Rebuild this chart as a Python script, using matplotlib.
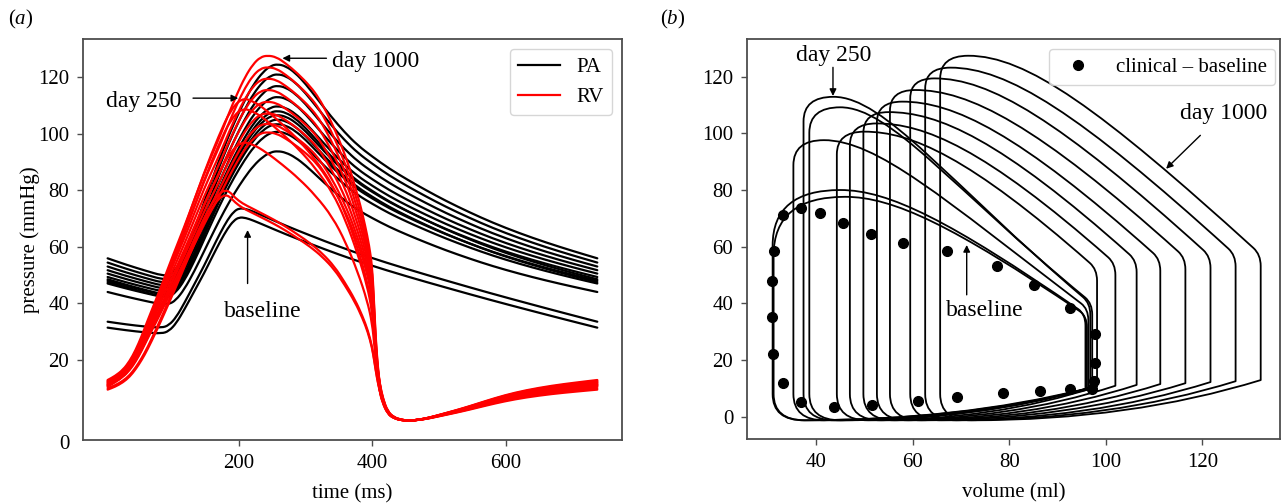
import numpy as np
import matplotlib
matplotlib.use("Agg")
import matplotlib.pyplot as plt
from matplotlib.path import Path
from matplotlib.patches import PathPatch
from matplotlib.lines import Line2D

plt.rcParams['font.family'] = ['Liberation Serif', 'DejaVu Serif']
plt.rcParams['mathtext.fontset'] = 'custom'
plt.rcParams['mathtext.rm'] = 'Liberation Serif'
plt.rcParams['mathtext.it'] = 'Liberation Serif:italic'

# ---------------- (a) pressure waveforms over one beat ----------------
# RV systole up to the pressure trough, day-1000 beat
rv_late_t = [3, 14, 26, 36, 45, 54, 63, 75, 87, 102, 118, 133, 148, 160, 173, 185, 197, 209, 221, 232,
             243, 256, 270, 288, 307, 320, 331, 344, 356, 366, 374, 382, 389, 395, 399.5, 402, 404.5, 407,
             410.5, 415, 422.7, 432, 444, 455]
rv_late_p = [12.9, 14.3, 16.5, 19.6, 23.5, 28.4, 34.0, 41.0, 48.3, 57.6, 67.1, 76.6, 86.0, 92.8, 100.0,
             107.3, 114.0, 120.0, 124.5, 127.0, 127.6, 127.0, 124.8, 121.2, 116.6, 112.4, 107.6, 101.2,
             94.2, 87.6, 81.2, 74.5, 67.5, 60.5, 53.0, 42.0, 29.5, 20.5, 11.8, 6.5, 1.5, -0.5, -1.3, -1.5]
# RV systole, early remodelling beat
rv_early_t = [3, 26, 45, 63, 87, 118, 148, 170, 187, 204, 220, 240, 265, 290, 315, 340, 360, 378, 392,
              399.5, 403, 407, 411, 416, 422.7, 432, 444, 455]
rv_early_p = [10.5, 13.8, 19.5, 28.0, 40.5, 58.0, 75.0, 86.0, 93.5, 97.1, 96.3, 93.5, 89.0, 84.0, 78.0,
              70.5, 61.5, 51.0, 41.0, 33.0, 24.5, 15.5, 9.8, 5.2, 1.5, -0.4, -1.2, -1.5]
# RV systole, baseline beat
rv_base_t = [3, 14, 26, 36, 45, 54, 63, 75, 87, 102, 118, 133, 148, 160, 170, 179, 186, 194, 205, 220,
             234, 252, 270, 288, 307, 325, 343, 358, 374, 385, 393, 399.5, 403, 407, 411, 416, 422.7,
             432, 444, 455]
rv_base_p = [10.0, 11.0, 12.6, 14.6, 17.3, 20.6, 24.5, 30.5, 36.8, 45.0, 54.0, 62.5, 70.3, 75.5, 78.8,
             80.0, 79.4, 77.3, 75.3, 73.5, 71.8, 69.6, 67.1, 64.3, 61.2, 57.6, 53.0, 47.6, 41.2, 35.5,
             30.5, 24.7, 19.5, 13.5, 9.0, 5.0, 1.5, -0.4, -1.2, -1.5]
# RV filling after the trough
rv_dia_t = [455, 470, 485, 505, 525, 545, 570, 598, 630, 669, 705, 737]
rv_dia_p = [-1.5, -1.1, -0.4, 0.9, 2.2, 3.6, 5.5, 7.5, 9.3, 10.9, 12.0, 12.9]

# PA, day-1000 beat and baseline beat
pa_late_t = [3, 30, 60, 85, 95, 105, 118, 133, 148, 163, 178, 193, 208, 222, 236, 248, 258, 270, 284,
             300, 318, 338, 358, 378, 400, 425, 453, 480, 510, 545, 580, 620, 660, 700, 737]
pa_late_p = [55.9, 53.7, 51.5, 49.8, 50.0, 51.8, 57.2, 66.0, 76.0, 86.0, 95.5, 104.0, 111.5, 117.5,
             121.8, 124.0, 124.5, 123.8, 121.5, 117.5, 112.0, 106.0, 100.5, 95.8, 91.8, 87.6, 83.6,
             80.0, 76.2, 72.2, 68.5, 64.8, 61.5, 58.5, 55.9]
pa_base_t = [3, 30, 60, 84, 95, 106, 118, 133, 148, 160, 172, 183, 192, 200, 210, 222, 240, 270, 307,
             350, 392, 450, 514, 575, 636, 690, 737]
pa_base_p = [31.4, 30.5, 29.7, 29.3, 30.2, 33.0, 37.8, 44.3, 50.8, 56.5, 62.0, 66.5, 69.2, 70.4, 70.2,
             69.2, 67.4, 64.4, 61.0, 57.2, 53.8, 49.6, 45.3, 41.3, 37.5, 34.2, 31.4]

# one entry per simulated stage: baseline x2, early x3 (incl. day 250), later x8 (up to day 1000)
rv_shape = ['base', 'base', 'early', 'early', 'early'] + ['late'] * 8
rv_peak = [80.0, 78.3, 97.1, 112.5, 108.9, 100.5, 103.5, 107.2, 111.3, 115.5, 119.5, 123.5, 127.6]
rv_edp = [10.0, 9.5, 10.5, 10.8, 11.0, 11.2, 11.4, 11.6, 11.9, 12.1, 12.4, 12.6, 12.9]
pa_shape = ['base', 'base'] + ['late'] * 11
pa_peak = [73.6, 70.4, 93.8, 108.0, 105.0, 100.7, 103.4, 106.6, 109.7, 113.0, 116.9, 121.0, 124.5]
pa_dia = [33.5, 31.4, 44.0, 48.5, 47.5, 47.0, 48.0, 49.3, 50.5, 51.7, 53.0, 54.4, 55.9]

# ---------------- (b) pressure-volume loops ----------------
esv = [31.0, 31.2, 35.3, 37.4, 38.6, 44.3, 47.0, 49.8, 52.6, 55.3, 59.5, 62.6, 65.7]
edv = [95.8, 96.1, 96.4, 96.8, 97.2, 98.2, 102.0, 106.4, 111.3, 116.5, 121.7, 126.9, 132.1]
edp = [9.8, 9.5, 10.0, 10.2, 10.4, 10.6, 10.9, 11.2, 11.5, 11.8, 12.2, 12.5, 12.9]
p_open = [36.2, 35.5, 38.0, 40.0, 40.0, 52.0, 54.0, 55.0, 55.5, 56.0, 56.5, 57.0, 57.2]
eject_slope = [1.17, 1.15, 1.30, 1.45, 1.40, 1.50, 1.50, 1.52, 1.52, 1.53, 1.54, 1.545, 1.546]
v_peak = [45.0, 46.0, 41.6, 43.6, 45.0, 50.0, 52.5, 55.0, 57.8, 60.5, 64.5, 67.8, 71.5]
p_peak = [80.0, 77.6, 97.6, 112.9, 109.2, 100.6, 103.5, 107.5, 111.2, 115.3, 119.4, 123.2, 127.4]

clin_v = [33.2, 36.9, 40.8, 45.5, 51.4, 58.1, 67.1, 77.4, 85.1, 92.5, 97.8, 97.8, 97.5, 97.1,
          92.5, 86.4, 78.8, 69.1, 61.1, 51.5, 43.8, 36.9, 33.1, 31.0, 30.8, 30.8, 31.2]
clin_p = [71.2, 73.6, 72.0, 68.5, 64.5, 61.2, 58.3, 53.3, 46.4, 38.5, 29.1, 19.0, 12.5, 9.8,
          9.6, 9.2, 8.3, 7.1, 5.6, 4.1, 3.3, 5.3, 11.8, 22.1, 35.1, 48.0, 58.3]


def smooth_path(x, y):
    # quadratic segments between knot midpoints
    pts = np.column_stack([x, y])
    mids = (pts[:-1] + pts[1:]) / 2
    verts = [pts[0], mids[0]]
    codes = [Path.MOVETO, Path.LINETO]
    for k in range(1, len(pts) - 1):
        verts += [pts[k], mids[k]]
        codes += [Path.CURVE3, Path.CURVE3]
    verts.append(pts[-1])
    codes.append(Path.LINETO)
    return Path(verts, codes)


def rescale_systole(t, p, peak, start):
    t = np.asarray(t, float)
    p = np.asarray(p, float)
    ref = np.interp(t, [t[0], t[-1]], [p[0], p[-1]])
    new = np.interp(t, [t[0], t[-1]], [start, p[-1]])
    i = np.argmax(p)
    g = (peak - new[i]) / (p[i] - ref[i])
    return new + (p - ref) * g


def rescale_filling(p, end):
    p = np.asarray(p, float)
    return p[0] + (p - p[0]) * (end - p[0]) / (p[-1] - p[0])


def rescale_pa(p, peak, dia):
    p = np.asarray(p, float)
    return dia + (p - p[0]) * (peak - dia) / (p.max() - p[0])


def pv_loop_path(esv, edv, edp, p_open, slope, v_pk, p_max, p_min=-1.3):
    span = edv - v_pk
    d = np.array([-1.0, slope])
    corner = np.array([edv, p_open])
    b1 = corner + 1.5 * d
    c1 = corner + 0.55 * span * d
    c2 = (v_pk + 0.2 * span, p_max)
    p_d = p_max - 1.4 * (v_pk - esv)
    x0 = esv + 6.5
    verts = [(edv, edp), (edv, p_open - 4.0),
             (edv, p_open), tuple(b1),
             tuple(c1), c2, (v_pk, p_max),
             (esv, p_max), (esv, p_d),
             (esv, 8.0),
             (esv, p_min), (x0, p_min),
             (x0 + 0.55 * (edv - x0), p_min), (edv, edp),
             (edv, edp)]
    codes = [Path.MOVETO, Path.LINETO,
             Path.CURVE3, Path.CURVE3,
             Path.CURVE4, Path.CURVE4, Path.CURVE4,
             Path.CURVE3, Path.CURVE3,
             Path.LINETO,
             Path.CURVE3, Path.CURVE3,
             Path.CURVE3, Path.CURVE3,
             Path.CLOSEPOLY]
    return Path(verts, codes)


fig = plt.figure(figsize=(12.88, 5.04), dpi=100)
ax1 = fig.add_axes([0.0644, 0.127, 0.4185, 0.7956])
ax2 = fig.add_axes([0.580, 0.1284, 0.4138, 0.7936])

spine_col = '0.3'
for ax in (ax1, ax2):
    for s in ax.spines.values():
        s.set_color(spine_col)
        s.set_linewidth(1.3)
    ax.tick_params(labelsize=15, length=4, width=1.0, color=spine_col, pad=6)

# PA traces
for k in range(len(pa_peak)):
    if pa_shape[k] == 'base':
        t, p = pa_base_t, rescale_pa(pa_base_p, pa_peak[k], pa_dia[k])
    else:
        t, p = pa_late_t, rescale_pa(pa_late_p, pa_peak[k], pa_dia[k])
    ax1.add_patch(PathPatch(smooth_path(t, p), fill=False, ec='k', lw=1.6,
                            capstyle='round', joinstyle='round'))

# RV traces
templates = {'base': (rv_base_t, rv_base_p), 'early': (rv_early_t, rv_early_p),
             'late': (rv_late_t, rv_late_p)}
for k in range(len(rv_peak)):
    ts, ps = templates[rv_shape[k]]
    sys_p = rescale_systole(ts, ps, rv_peak[k], rv_edp[k])
    dia_p = rescale_filling(rv_dia_p, rv_edp[k])
    t = np.concatenate([ts, rv_dia_t[1:]])
    p = np.concatenate([sys_p, dia_p[1:]])
    ax1.add_patch(PathPatch(smooth_path(t, p), fill=False, ec='red', lw=1.6,
                            capstyle='round', joinstyle='round'))

ax1.set_xlim(-34, 774)
ax1.set_ylim(-8.3, 133.4)
ax1.set_xticks([200, 400, 600])
ax1.set_yticks([20, 40, 60, 80, 100, 120])
ax1.text(-0.024, -0.012, '0', transform=ax1.transAxes, ha='right', va='center', fontsize=15)
ax1.set_xlabel('time (ms)', fontsize=15, labelpad=8)
ax1.set_ylabel('pressure (mmHg)', fontsize=15, labelpad=-1.5)
ax1.legend(handles=[Line2D([], [], color='k', lw=1.6, label='PA'),
                    Line2D([], [], color='red', lw=1.6, label='RV')],
           loc='upper right', bbox_to_anchor=(0.9814, 0.975), borderaxespad=0, fontsize=15)

arrow = dict(arrowstyle='-|>', color='k', lw=1.0, mutation_scale=10, shrinkA=0, shrinkB=0)
ax1.annotate('', xy=(265, 126.6), xytext=(331, 126.6), arrowprops=arrow)
ax1.text(339, 123.6, 'day 1000', fontsize=17, ha='left', va='baseline')
ax1.annotate('', xy=(198.8, 112.5), xytext=(131, 112.5), arrowprops=arrow)
ax1.text(56.5, 109.5, 'day 250', fontsize=17, ha='center', va='baseline')
ax1.annotate('', xy=(212.8, 65.9), xytext=(212.8, 47.0), arrowprops=arrow)
ax1.text(235, 35.3, 'baseline', fontsize=17, ha='center', va='baseline')

# PV loops
for k in range(len(esv)):
    path = pv_loop_path(esv[k], edv[k], edp[k], p_open[k], eject_slope[k], v_peak[k], p_peak[k])
    ax2.add_patch(PathPatch(path, fill=False, ec='k', lw=1.3, joinstyle='round'))
ax2.plot(clin_v, clin_p, 'o', color='k', ms=7, label='clinical \u2013 baseline', zorder=3)

ax2.set_xlim(25.7, 136.1)
ax2.set_ylim(-8.0, 133.2)
ax2.set_xticks([40, 60, 80, 100, 120])
ax2.set_yticks([0, 20, 40, 60, 80, 100, 120])
ax2.set_xlabel('volume (ml)', fontsize=15, labelpad=8)
ax2.legend(loc='upper right', bbox_to_anchor=(0.9906, 0.976), borderaxespad=0, fontsize=15)

ax2.annotate('', xy=(43.5, 113.2), xytext=(43.5, 123.3), arrowprops=arrow)
ax2.text(43.6, 125.7, 'day 250', fontsize=17, ha='center', va='baseline')
ax2.annotate('', xy=(71.2, 60.6), xytext=(71.2, 43.0), arrowprops=arrow)
ax2.text(75.0, 35.5, 'baseline', fontsize=17, ha='center', va='baseline')
ax2.annotate('', xy=(112.5, 87.5), xytext=(119.6, 99.3), arrowprops=arrow)
ax2.text(124.5, 105.2, 'day 1000', fontsize=17, ha='center', va='baseline')

fig.text(21 / 1288, 1 - 19 / 504, r'($\mathit{a}$)', fontsize=15, ha='center', va='center')
fig.text(673 / 1288, 1 - 19 / 504, r'($\mathit{b}$)', fontsize=15, ha='center', va='center')

fig.savefig('out.png', dpi=100)
